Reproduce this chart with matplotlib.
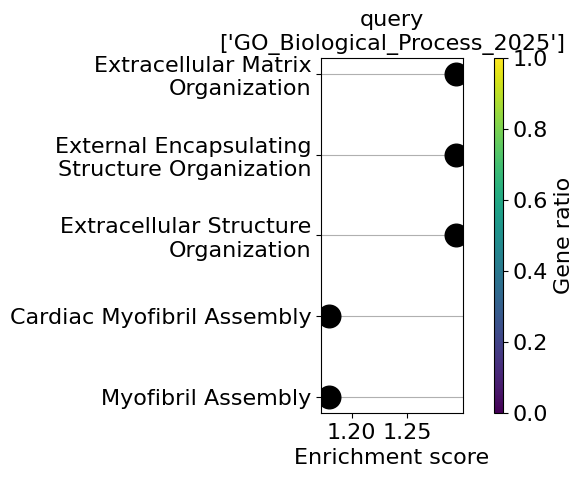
import matplotlib
matplotlib.use("Agg")
import matplotlib.pyplot as plt
import numpy as np

terms = ["Myofibril Assembly",
         "Cardiac Myofibril Assembly",
         "Extracellular Structure\nOrganization",
         "External Encapsulating\nStructure Organization",
         "Extracellular Matrix\nOrganization"]
enrichment = [1.1793, 1.1793, 1.2941, 1.2941, 1.2941]

plt.rcParams["font.size"] = 16

fig = plt.figure(figsize=(5.84, 4.78), dpi=100)
ax = fig.add_axes([0.5497, 0.1360, 0.2426, 0.7427])
cax = fig.add_axes([0.8459, 0.1360, 0.0154, 0.7427])

ypos = np.arange(len(terms))
ax.set_axisbelow(True)
ax.grid(axis="y", color="#b0b0b0", linewidth=0.8)
ax.scatter(enrichment, ypos, s=265, color="black", zorder=3)

ax.set_yticks(ypos)
ax.set_yticklabels(terms)
ax.set_xticks([1.20, 1.25])
ax.set_xlim(1.1724, 1.2998)
ax.set_ylim(-0.2, 4.2)
ax.set_xlabel("Enrichment score")
ax.set_title("query\n['GO_Biological_Process_2025']", fontsize=16)

sm = plt.cm.ScalarMappable(cmap="viridis", norm=plt.Normalize(0, 1))
cb = fig.colorbar(sm, cax=cax)
cb.set_label("Gene ratio")
cb.outline.set_linewidth(0.8)

fig.savefig("out.png", dpi=100)
